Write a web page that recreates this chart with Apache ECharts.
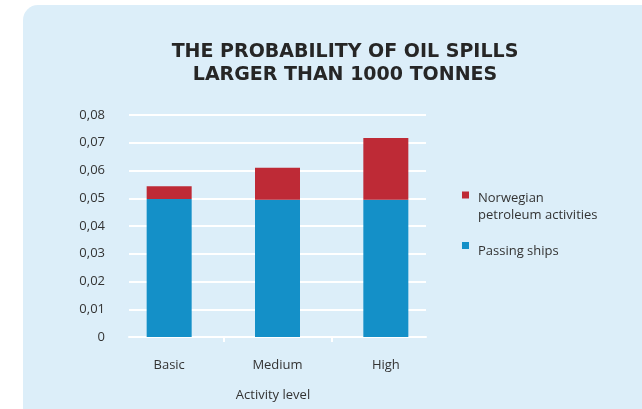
<!DOCTYPE html>
<html>
<head>
<meta charset="utf-8">
<script src="https://cdn.jsdelivr.net/npm/echarts@6/dist/echarts.min.js"></script>
<style>
  html, body { margin: 0; padding: 0; background: #ffffff; }
  #chart { width: 642px; height: 409px; }
</style>
</head>
<body>
<div id="chart"></div>
<script>
// data
const categories = ['Basic', 'Medium', 'High'];
const passingShips = [0.0497, 0.0495, 0.0495];
const norwegianPetroleum = [0.0046, 0.0115, 0.0222];
const yTicks = ['0', '0,01', '0,02', '0,03', '0,04', '0,05', '0,06', '0,07', '0,08'];
// tick marks sit between the categories
const categoryBreaks = [0.5, 1.5];

const BLUE = '#1490c8';
const RED = '#be2a36';
const TEXT = '#333333';
const FONT = 'Open Sans';

const myChart = echarts.init(document.getElementById('chart'));

const option = {
  animation: false,
  backgroundColor: '#ffffff',
  textStyle: { fontFamily: FONT },
  graphic: [
    {
      type: 'rect',
      z: -10,
      shape: { x: 23, y: 5, width: 640, height: 420, r: [15, 0, 0, 4] },
      style: { fill: '#dceef9' }
    }
  ],
  title: {
    text: 'THE PROBABILITY OF OIL SPILLS\nLARGER THAN 1000 TONNES',
    left: 340,
    top: 36,
    textAlign: 'center',
    textStyle: {
      fontFamily: 'DejaVu Sans',
      fontSize: 19,
      fontWeight: 'bold',
      color: '#262626',
      lineHeight: 23
    }
  },
  legend: [
    {
      data: ['Norwegian\npetroleum activities'],
      orient: 'vertical',
      left: 462,
      top: 172,
      padding: 0,
      icon: 'rect',
      itemWidth: 7,
      itemHeight: 7,
      formatter: function (name) {
        const lines = name.split('\n');
        return '{s| }\n{t|' + lines[0] + '}\n{t|' + lines[1] + '}';
      },
      textStyle: {
        fontFamily: FONT, fontSize: 13, color: TEXT,
        rich: {
          s: { lineHeight: 23, fontSize: 12 },
          t: { lineHeight: 17, fontSize: 13, color: TEXT, fontFamily: FONT, padding: [0, 0, 0, 4] }
        }
      }
    },
    {
      data: ['Passing ships'],
      orient: 'vertical',
      left: 462,
      top: 233,
      padding: 0,
      icon: 'rect',
      itemWidth: 7,
      itemHeight: 7,
      formatter: function (name) {
        return '{s| }\n{t|' + name + '}';
      },
      textStyle: {
        fontFamily: FONT, fontSize: 13, color: TEXT,
        rich: {
          s: { lineHeight: 12, fontSize: 8 },
          t: { lineHeight: 17, fontSize: 13, color: TEXT, fontFamily: FONT, padding: [0, 0, 0, 4] }
        }
      }
    }
  ],
  grid: [
    // grid lines + y axis
    { left: 129, right: 216, top: 115, bottom: 72 },
    // bars
    { left: 115, right: 202, top: 115, bottom: 72 }
  ],
  xAxis: [
    {
      gridIndex: 0,
      type: 'category',
      data: categories,
      axisLine: { lineStyle: { color: '#ffffff', width: 2 } },
      axisTick: { show: false },
      axisLabel: { show: false },
      splitLine: { show: false }
    },
    {
      gridIndex: 1,
      type: 'category',
      data: categories,
      position: 'bottom',
      name: 'Activity level',
      nameLocation: 'middle',
      nameGap: 52,
      nameTextStyle: { fontFamily: FONT, fontSize: 13, color: TEXT, padding: [0, 9, 0, 0] },
      axisLine: { show: false },
      axisTick: { show: false },
      axisLabel: { fontFamily: FONT, fontSize: 13, color: TEXT, margin: 22 }
    },
    {
      gridIndex: 1,
      type: 'value',
      position: 'bottom',
      min: -0.5,
      max: 2.5,
      axisLine: { show: false },
      axisLabel: { show: false },
      splitLine: { show: false },
      axisTick: {
        show: true,
        customValues: categoryBreaks,
        length: 5,
        lineStyle: { color: '#ffffff', width: 2 }
      }
    }
  ],
  yAxis: [
    {
      gridIndex: 0,
      type: 'value',
      min: 0,
      max: 0.08,
      interval: 0.01,
      axisLine: { show: false },
      axisTick: { show: false },
      axisLabel: {
        fontFamily: FONT,
        fontSize: 13,
        color: TEXT,
        margin: 24,
        padding: [6, 0, 0, 0],
        formatter: function (v) { return yTicks[Math.round(v * 100)]; }
      },
      splitLine: { lineStyle: { color: '#ffffff', width: 2 } }
    },
    {
      gridIndex: 1,
      type: 'value',
      min: 0,
      max: 0.08,
      interval: 0.01,
      show: false
    }
  ],
  series: [
    {
      name: 'Passing ships',
      type: 'bar',
      stack: 'total',
      xAxisIndex: 1,
      yAxisIndex: 1,
      barWidth: 45,
      data: passingShips,
      itemStyle: { color: BLUE }
    },
    {
      name: 'Norwegian\npetroleum activities',
      type: 'bar',
      stack: 'total',
      xAxisIndex: 1,
      yAxisIndex: 1,
      barWidth: 45,
      data: norwegianPetroleum,
      itemStyle: { color: RED }
    }
  ]
};

myChart.setOption(option);
</script>
</body>
</html>
